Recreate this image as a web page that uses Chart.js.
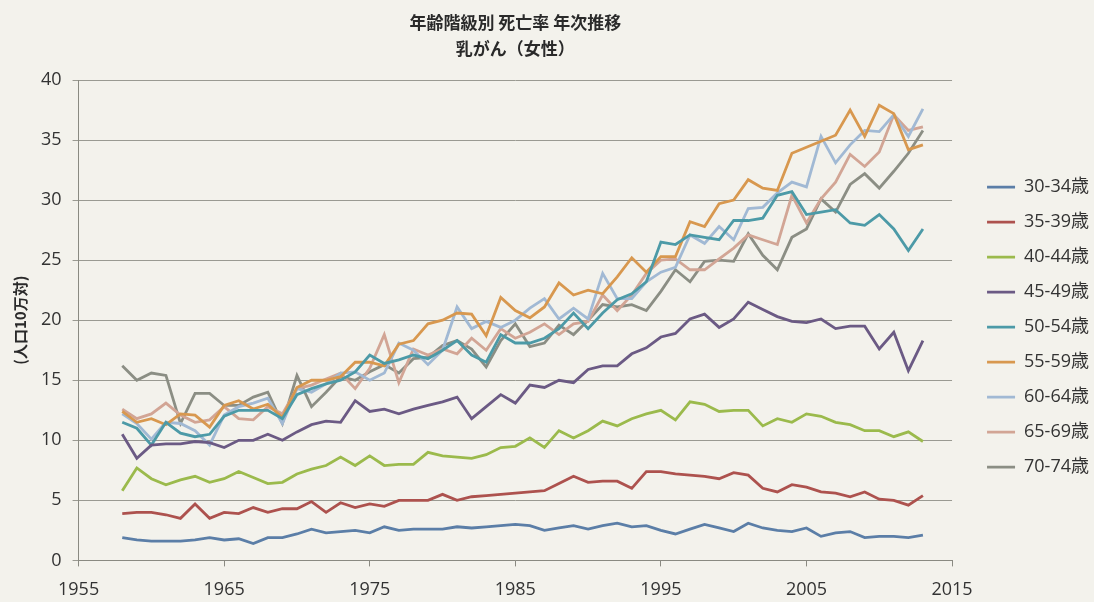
<!DOCTYPE html>
<html>
<head>
<meta charset="utf-8">
<script src="https://cdn.jsdelivr.net/npm/chart.js@4/dist/chart.umd.min.js"></script>
<style>
  html, body { margin: 0; padding: 0; background: #f3f2ec; }
  #wrap { width: 1094px; height: 602px; }
</style>
</head>
<body>
<div id="wrap"><canvas id="lineChart" width="1094" height="602"></canvas></div>
<script>
// 年 (1958-2013)
const years = [];
for (let y = 1958; y <= 2013; y++) years.push(y);

const ageGroups = ['30-34歳', '35-39歳', '40-44歳', '45-49歳', '50-54歳', '55-59歳', '60-64歳', '65-69歳', '70-74歳'];

const s3034 = [1.9,1.7,1.6,1.6,1.6,1.7,1.9,1.7,1.8,1.4, 1.9,1.9,2.2,2.6,2.3,2.4,2.5,2.3,2.8,2.5, 2.6,2.6,2.6,2.8,2.7,2.8,2.9,3.0,2.9,2.5, 2.7,2.9,2.6,2.9,3.1,2.8,2.9,2.5,2.2,2.6, 3.0,2.7,2.4,3.1,2.7,2.5,2.4,2.7,2.0,2.3, 2.4,1.9,2.0,2.0,1.9,2.1];
const s3539 = [3.9,4.0,4.0,3.8,3.5,4.7,3.5,4.0,3.9,4.4, 4.0,4.3,4.3,4.9,4.0,4.8,4.4,4.7,4.5,5.0, 5.0,5.0,5.5,5.0,5.3,5.4,5.5,5.6,5.7,5.8, 6.4,7.0,6.5,6.6,6.6,6.0,7.4,7.4,7.2,7.1, 7.0,6.8,7.3,7.1,6.0,5.7,6.3,6.1,5.7,5.6, 5.3,5.7,5.1,5.0,4.6,5.4];
const s4044 = [5.8,7.7,6.8,6.3,6.7,7.0,6.5,6.8,7.4,6.9, 6.4,6.5,7.2,7.6,7.9,8.6,7.9,8.7,7.9,8.0, 8.0,9.0,8.7,8.6,8.5,8.8,9.4,9.5,10.2,9.4, 10.8,10.2,10.8,11.6,11.2,11.8,12.2,12.5,11.7,13.2, 13.0,12.4,12.5,12.5,11.2,11.8,11.5,12.2,12.0,11.5, 11.3,10.8,10.8,10.3,10.7,9.9];
const s4549 = [10.5,8.5,9.6,9.7,9.7,9.9,9.8,9.4,10.0,10.0, 10.5,10.0,10.7,11.3,11.6,11.5,13.3,12.4,12.6,12.2, 12.6,12.9,13.2,13.6,11.8,12.8,13.8,13.1,14.6,14.4, 15.0,14.8,15.9,16.2,16.2,17.2,17.7,18.6,18.9,20.1, 20.5,19.4,20.1,21.5,20.9,20.3,19.9,19.8,20.1,19.3, 19.5,19.5,17.6,19.0,15.8,18.3];
const s5054 = [11.5,11.0,9.6,11.5,10.6,10.3,10.5,12.0,12.5,12.5, 12.5,11.8,13.8,14.3,14.7,15.0,15.7,17.1,16.4,16.7, 17.1,16.8,17.5,18.3,17.1,16.5,18.8,18.1,18.1,18.5, 19.3,20.6,19.3,20.6,21.7,22.2,23.2,26.5,26.3,27.1, 26.9,26.7,28.3,28.3,28.5,30.4,30.7,28.8,29.0,29.2, 28.1,27.9,28.8,27.6,25.8,27.6];
const s5559 = [12.4,11.5,11.8,11.3,12.2,12.1,11.1,12.9,13.3,12.6, 13.0,11.9,14.4,15.0,15.0,15.3,16.5,16.5,16.2,18.0, 18.3,19.7,20.0,20.6,20.5,18.7,21.9,20.8,20.2,21.1, 23.1,22.1,22.5,22.2,23.6,25.2,24.0,25.3,25.3,28.2, 27.8,29.7,30.0,31.7,31.0,30.8,33.9,34.4,34.9,35.4, 37.5,35.3,37.9,37.2,34.2,34.6];
const s6064 = [12.2,11.4,10.1,11.5,11.4,10.8,9.6,12.1,12.8,13.1, 13.5,11.4,14.3,14.0,14.7,15.6,15.7,15.0,15.6,18.1, 17.5,16.3,17.5,21.1,19.3,19.9,19.4,20.0,21.0,21.8, 20.1,21.0,20.1,23.9,21.8,21.8,23.2,24.0,24.4,27.1, 26.4,27.8,26.7,29.3,29.4,30.6,31.5,31.1,35.3,33.1, 34.6,35.8,35.7,37.1,35.3,37.6];
const s6569 = [12.6,11.8,12.2,13.1,12.1,11.5,11.7,12.8,11.8,11.7, 12.8,12.2,14.3,14.6,15.1,15.6,14.3,16.0,18.8,14.8, 17.6,17.1,17.6,17.2,18.5,17.5,19.3,18.5,19.0,19.7, 18.8,19.7,19.9,22.1,20.8,22.1,23.9,25.0,25.1,24.2, 24.2,25.1,26.0,27.1,26.7,26.3,30.4,28.1,30.1,31.5, 33.8,32.8,34.0,37.1,35.8,36.1];
const s7074 = [16.2,15.0,15.6,15.4,11.4,13.9,13.9,12.9,12.9,13.6, 14.0,11.4,15.4,12.8,14.0,15.3,15.0,15.7,16.3,15.6, 16.8,16.9,17.9,18.3,17.6,16.1,18.3,19.7,17.8,18.1, 19.6,18.8,20.0,21.3,21.1,21.3,20.8,22.4,24.2,23.2, 24.9,25.0,24.9,27.2,25.4,24.2,26.9,27.6,30.1,29.0, 31.3,32.2,31.0,32.4,33.9,35.8];

const seriesValues = [s3034, s3539, s4044, s4549, s5054, s5559, s6064, s6569, s7074];
const colors = ['#5b7ea7', '#ad524e', '#9bba4c', '#6b5a84', '#4c9aa7', '#d8984f', '#a1b9d4', '#d2a595', '#8b8e84'];

const xTicks = [1955, 1965, 1975, 1985, 1995, 2005, 2015];

const bgPlugin = {
  id: 'paper',
  beforeDraw(chart) {
    const c = chart.ctx;
    c.save();
    c.fillStyle = '#f3f2ec';
    c.fillRect(0, 0, chart.width, chart.height);
    c.restore();
  }
};

// legend sits a little further right / lower than chart.js puts it
const legendShift = {
  id: 'legendShift',
  afterLayout(chart) {
    const lg = chart.legend;
    lg.left += 18; lg.right += 18;
    lg.top += 7; lg.bottom += 7;
  }
};

let datasets = seriesValues.map((vals, i) => ({
  label: ageGroups[i],
  data: vals.map((v, j) => ({ x: years[j], y: v })),
  borderColor: colors[i],
  backgroundColor: colors[i],
  borderWidth: 2.8,
  pointRadius: 0,
  tension: 0,
  fill: false,
}));

const font = '"Open Sans", "Noto Sans CJK JP", sans-serif';

let ctxL = document.getElementById('lineChart').getContext('2d');
let myLineChart = new Chart(ctxL, {
  type: 'line',
  data: { datasets: datasets },
  plugins: [bgPlugin, legendShift],
  options: {
    responsive: false,
    animation: false,
    devicePixelRatio: 1,
    layout: { padding: { top: 6, right: 13, left: 11, bottom: 1 } },
    plugins: {
      title: {
        display: true,
        fullSize: false,
        text: ['年齢階級別 死亡率 年次推移', '乳がん（女性）'],
        font: { family: '"Noto Sans CJK JP", sans-serif', size: 17, weight: 'bold', lineHeight: 1.5 },
        color: '#2a2a2a',
        padding: { top: 4, bottom: 19 },
      },
      legend: {
        position: 'right',
        fullSize: false,
        labels: {
          usePointStyle: true,
          pointStyle: 'line',
          pointStyleWidth: 28,
          padding: 17,
          color: '#333',
          font: { family: font, size: 18 },
        },
      },
      tooltip: { enabled: false },
    },
    scales: {
      x: {
        type: 'linear',
        min: 1955,
        max: 2015,
        afterBuildTicks: (axis) => { axis.ticks = xTicks.map((v) => ({ value: v })); },
        afterFit: (axis) => { axis.height -= 13; },
        ticks: {
          callback: (v) => String(v),
          color: '#333',
          font: { family: font, size: 18 },
          maxRotation: 0,
          padding: 13,
        },
        grid: { drawOnChartArea: false, drawTicks: true, tickLength: 6, color: '#8a8a82' },
        border: { color: '#8a8a82', width: 1 },
      },
      y: {
        min: 0,
        max: 40,
        afterFit: (axis) => { axis.width -= 11; },
        ticks: {
          stepSize: 5,
          color: '#333',
          font: { family: font, size: 18 },
          padding: 11,
        },
        grid: { color: '#9a9a92', lineWidth: 1, tickLength: 6 },
        border: { color: '#8a8a82', width: 1 },
        title: {
          display: true,
          text: '(人口10万対)',
          color: '#2a2a2a',
          font: { family: '"Noto Sans CJK JP", sans-serif', size: 15, weight: 'bold' },
          padding: { top: 0, bottom: 12 },
        },
      },
    },
  },
});
</script>
</body>
</html>
